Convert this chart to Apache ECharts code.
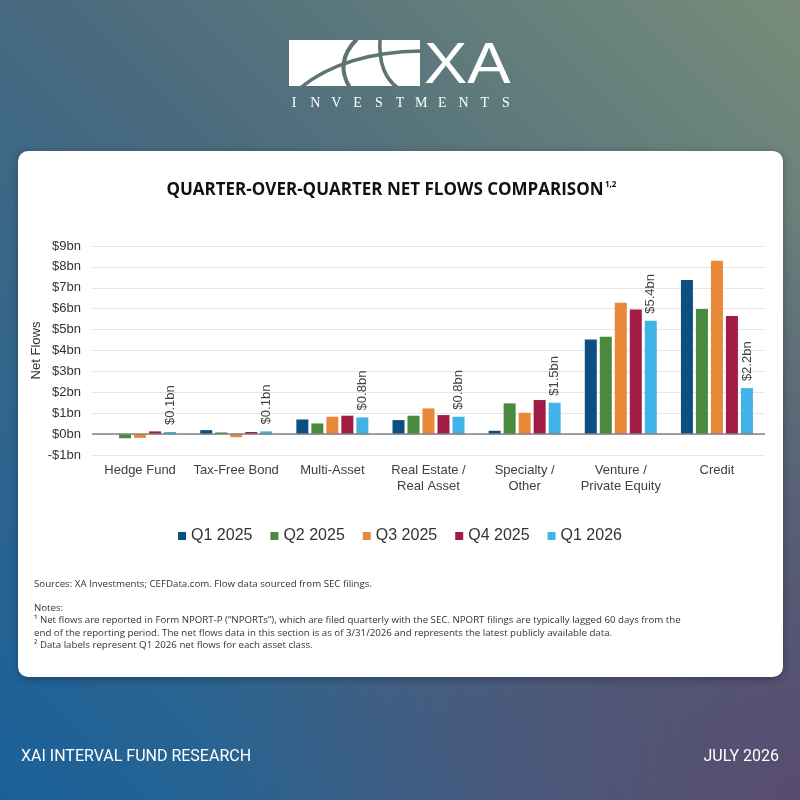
<!DOCTYPE html>
<html>
<head>
<meta charset="utf-8">
<script src="https://cdn.jsdelivr.net/npm/echarts@6/dist/echarts.min.js"></script>
<style>
html, body { margin: 0; padding: 0; }
#main { width: 800px; height: 800px; }
</style>
</head>
<body>
<div id="main"></div>
<script>
// chart data
var categories = ['Hedge Fund', 'Tax-Free Bond', 'Multi-Asset', 'Real Estate /\nReal Asset',
    'Specialty /\nOther', 'Venture /\nPrivate Equity', 'Credit'];
var seriesNames = ['Q1 2025', 'Q2 2025', 'Q3 2025', 'Q4 2025', 'Q1 2026'];
var q1_2025 = [0.0, 0.19, 0.7, 0.67, 0.16, 4.53, 7.37];
var q2_2025 = [-0.2, 0.08, 0.51, 0.88, 1.47, 4.66, 5.98];
var q3_2025 = [-0.18, -0.15, 0.83, 1.23, 1.02, 6.28, 8.29];
var q4_2025 = [0.13, 0.1, 0.88, 0.91, 1.63, 5.96, 5.65];
var q1_2026 = [0.1, 0.13, 0.8, 0.83, 1.5, 5.42, 2.2];
var yMin = -1, yMax = 9, yStep = 1;

var colors = ['#0c4f80', '#4a8a3e', '#e8893a', '#a21b45', '#41b3e6'];
var allValues = [q1_2025, q2_2025, q3_2025, q4_2025, q1_2026];

var chart = echarts.init(document.getElementById('main'));

function fmtBn(v) {
    return (v < 0 ? '-$' : '$') + Math.abs(v) + 'bn';
}

var series = seriesNames.map(function (name, i) {
    var s = {
        name: name,
        type: 'bar',
        data: allValues[i],
        barWidth: 12,
        barGap: '25%',
        itemStyle: { color: colors[i] }
    };
    if (i === 4) {
        s.label = {
            show: true,
            position: 'top',
            rotate: 90,
            align: 'left',
            verticalAlign: 'middle',
            distance: 7,
            fontFamily: 'Liberation Sans, Arial',
            fontSize: 13,
            color: '#444',
            formatter: function (p) { return '$' + p.value.toFixed(1) + 'bn'; }
        };
    }
    if (i === 0) {
        // zero line
        s.markLine = {
            silent: true,
            symbol: 'none',
            label: { show: false },
            lineStyle: { color: '#808080', width: 1.5, type: 'solid' },
            data: [{ yAxis: 0 }]
        };
    }
    return s;
});

// background, card, logo, texts
var bgColor = '#5e7472';
var noteFont = 'Open Sans';
var noteSize = 9.7;
var graphics = [
    {
        type: 'rect', z: -10,
        shape: { x: 0, y: 0, width: 800, height: 800 },
        style: { fill: new echarts.graphic.LinearGradient(1, 0, 0, 1, [
            { offset: 0, color: '#778d79' },
            { offset: 0.45, color: '#4b6b7e' },
            { offset: 1, color: '#19609a' }
        ]) }
    },
    {
        type: 'rect', z: -9,
        shape: { x: 0, y: 0, width: 800, height: 800 },
        style: { fill: new echarts.graphic.RadialGradient(1, 1, 0.75, [
            { offset: 0, color: 'rgba(88,76,112,1)' },
            { offset: 1, color: 'rgba(88,76,112,0)' }
        ]) }
    },
    {
        type: 'rect', z: -8,
        shape: { x: 18, y: 151, width: 765, height: 526, r: 10 },
        style: { fill: '#ffffff', shadowBlur: 8, shadowColor: 'rgba(0,0,0,0.3)', shadowOffsetY: 2 }
    },
    // logo mark
    {
        type: 'rect', z: 5,
        shape: { x: 289, y: 40, width: 131, height: 46 },
        style: { fill: '#ffffff' }
    },
    {
        type: 'bezierCurve', z: 6,
        shape: { x1: 300, y1: 88, cpx1: 345, cpy1: 52, x2: 421, y2: 51 },
        style: { stroke: bgColor, lineWidth: 3.5, fill: null }
    },
    {
        type: 'bezierCurve', z: 6,
        shape: { x1: 357, y1: 39, cpx1: 334, cpy1: 62, x2: 350, y2: 88 },
        style: { stroke: bgColor, lineWidth: 4, fill: null }
    },
    {
        type: 'bezierCurve', z: 6,
        shape: { x1: 380, y1: 39, cpx1: 378, cpy1: 74, x2: 398, y2: 88 },
        style: { stroke: bgColor, lineWidth: 3.5, fill: null }
    },
    {
        type: 'text', z: 5,
        x: 424, y: 67, scaleX: 1.12,
        style: {
            x: 0, y: 0, text: 'XA', fill: '#ffffff',
            fontFamily: 'Liberation Sans', fontSize: 58, fontWeight: 'normal',
            textAlign: 'left', textVerticalAlign: 'middle'
        }
    },
    // title
    {
        type: 'text', z: 5,
        style: {
            x: 385, y: 190, text: 'QUARTER-OVER-QUARTER NET FLOWS COMPARISON',
            fill: '#111111', fontFamily: 'Open Sans', fontWeight: 'bold', fontSize: 17,
            textAlign: 'center', textVerticalAlign: 'middle'
        }
    },
    {
        type: 'text', z: 5,
        style: {
            x: 605, y: 185, text: '1,2',
            fill: '#111111', fontFamily: 'Open Sans', fontWeight: 'bold', fontSize: 8,
            textAlign: 'left', textVerticalAlign: 'middle'
        }
    },
    // sources and notes
    {
        type: 'text', z: 5,
        style: {
            x: 34, y: 584, text: 'Sources: XA Investments; CEFData.com. Flow data sourced from SEC filings.',
            fill: '#333333', fontFamily: noteFont, fontSize: noteSize,
            textAlign: 'left', textVerticalAlign: 'middle'
        }
    },
    {
        type: 'text', z: 5,
        style: {
            x: 34, y: 608, text: 'Notes:',
            fill: '#333333', fontFamily: noteFont, fontSize: noteSize,
            textAlign: 'left', textVerticalAlign: 'middle'
        }
    },
    {
        type: 'text', z: 5,
        style: {
            x: 34, y: 620,
            text: '\u00b9 Net flows are reported in Form NPORT-P (\u201cNPORTs\u201d), which are filed quarterly with the SEC. NPORT filings are typically lagged 60 days from the',
            fill: '#333333', fontFamily: noteFont, fontSize: noteSize,
            textAlign: 'left', textVerticalAlign: 'middle'
        }
    },
    {
        type: 'text', z: 5,
        style: {
            x: 34, y: 633,
            text: 'end of the reporting period. The net flows data in this section is as of 3/31/2026 and represents the latest publicly available data.',
            fill: '#333333', fontFamily: noteFont, fontSize: noteSize,
            textAlign: 'left', textVerticalAlign: 'middle'
        }
    },
    {
        type: 'text', z: 5,
        style: {
            x: 34, y: 645,
            text: '\u00b2 Data labels represent Q1 2026 net flows for each asset class.',
            fill: '#333333', fontFamily: noteFont, fontSize: noteSize,
            textAlign: 'left', textVerticalAlign: 'middle'
        }
    },
    // footer
    {
        type: 'text', z: 5,
        style: {
            x: 21, y: 757, text: 'XAI INTERVAL FUND RESEARCH',
            fill: '#ffffff', fontFamily: 'Roboto', fontSize: 16,
            textAlign: 'left', textVerticalAlign: 'middle'
        }
    },
    {
        type: 'text', z: 5,
        style: {
            x: 779, y: 757, text: 'JULY 2026',
            fill: '#ffffff', fontFamily: 'Roboto', fontSize: 16,
            textAlign: 'right', textVerticalAlign: 'middle'
        }
    }
];

// INVESTMENTS, spaced letter by letter
var word = 'INVESTMENTS';
for (var k = 0; k < word.length; k++) {
    graphics.push({
        type: 'text', z: 5,
        style: {
            x: 294 + k * 21.2, y: 103, text: word[k], fill: '#ffffff',
            fontFamily: 'Liberation Serif', fontSize: 14,
            textAlign: 'center', textVerticalAlign: 'middle'
        }
    });
}

var option = {
    animation: false,
    textStyle: { fontFamily: 'Liberation Sans, Arial' },
    graphic: graphics,
    legend: {
        data: seriesNames,
        top: 523,
        left: 'center',
        icon: 'rect',
        itemWidth: 8,
        itemHeight: 8,
        itemGap: 18,
        textStyle: { fontSize: 16, color: '#333333', fontFamily: 'Liberation Sans, Arial' }
    },
    grid: { left: 92, right: 35, top: 246, bottom: 345, containLabel: false },
    xAxis: {
        type: 'category',
        data: categories,
        axisLine: { show: false },
        axisTick: { show: false },
        axisLabel: {
            margin: 7,
            fontSize: 13,
            lineHeight: 16,
            color: '#404040',
            interval: 0
        }
    },
    yAxis: {
        type: 'value',
        min: yMin,
        max: yMax,
        interval: yStep,
        name: 'Net Flows',
        nameLocation: 'middle',
        nameRotate: 90,
        nameGap: 49,
        nameMoveOverlap: false,
        nameTextStyle: { fontSize: 13, color: '#333333' },
        axisLine: { show: false },
        axisTick: { show: false },
        axisLabel: {
            margin: 11,
            fontSize: 13,
            color: '#333333',
            formatter: fmtBn
        },
        splitLine: { lineStyle: { color: '#e6e6e6', width: 1 } }
    },
    series: series
};

chart.setOption(option);
</script>
</body>
</html>
